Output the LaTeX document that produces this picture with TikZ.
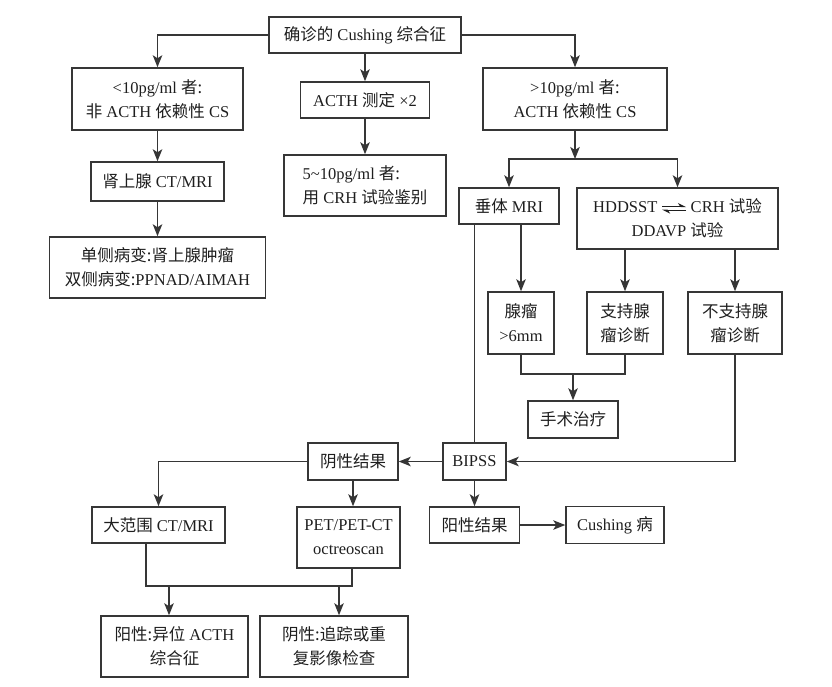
\documentclass[tikz,border=0pt]{standalone}
\usepackage{fontspec}
\setmainfont{Liberation Serif}
\newfontfamily\cjk{Noto Sans CJK SC}
\newcommand{\zh}[1]{{\cjk #1}}
\newcommand{\harp}{\tikz[baseline=-0.6ex]{%
  \draw[line width=1.1pt,-{Stealth[left,length=7pt,width=7pt]}] (0pt,1.8pt) -- (24pt,1.8pt);
  \draw[line width=1.1pt,-{Stealth[left,length=7pt,width=7pt]}] (24pt,-1.8pt) -- (0pt,-1.8pt);}}
\usetikzlibrary{arrows.meta,positioning}
\definecolor{linegray}{HTML}{363636}
\definecolor{txtgray}{HTML}{1E1E1E}

\begin{document}
\begin{tikzpicture}[x=1pt,y=-1pt,>={Stealth[length=12pt,width=9.5pt,inset=3pt]},
    box/.style={draw=linegray,line width=1.5pt,inner sep=0pt,align=center,
      text=txtgray,font=\fontsize{16.5}{24}\selectfont},
    sz/.style 2 args={minimum width=#1pt,minimum height=#2pt},
    con/.style={draw=linegray,line width=1.5pt}]
  \useasboundingbox (0,0) rectangle (832,686);

  % first level
  \node[box,sz={192}{36}] (dx) at (365,35) {\zh{确诊的} Cushing \zh{综合征}};
  \node[box,sz={171}{62}] (low) at (157.5,99) {<10pg/ml \zh{者:}\\\zh{非} ACTH \zh{依赖性} CS};
  \node[box,sz={129}{36}] (acth) at (365,100) {ACTH \zh{测定} ×2};
  \node[box,sz={184}{62}] (high) at (575,99) {>10pg/ml \zh{者:}\\ACTH \zh{依赖性} CS};
  \node[box,sz={162}{61},align=left] (mid) at (365,185.5) {5\textasciitilde10pg/ml \zh{者:}\\\zh{用} CRH \zh{试验鉴别}};

  % adrenal branch
  \node[box,sz={133}{39}] (adr) at (157.5,181.5) {\zh{肾上腺} CT/MRI};
  \node[box,sz={216}{61}] (adr_res) at (157.5,267.5) {\zh{单侧病变:肾上腺肿瘤}\\\zh{双侧病变:}PPNAD/AIMAH};

  % pituitary branch
  \node[box,sz={100}{36}] (pit) at (509,206) {\zh{垂体} MRI};
  \node[box,sz={201}{61}] (dyn) at (677.5,218.5) {HDDSST \harp{} CRH \zh{试验}\\DDAVP \zh{试验}};
  \node[box,sz={66}{62}] (aden) at (521,323) {\zh{腺瘤}\\>6mm};
  \node[box,sz={76}{62}] (sup) at (625,323) {\zh{支持腺}\\\zh{瘤诊断}};
  \node[box,sz={94}{62}] (nsup) at (735,323) {\zh{不支持腺}\\\zh{瘤诊断}};
  \node[box,sz={90}{37}] (surg) at (573,419.5) {\zh{手术治疗}};

  % BIPSS
  \node[box,sz={63}{37}] (bipss) at (474.5,461.5) {BIPSS};
  \node[box,sz={90}{37}] (neg) at (353,461.5) {\zh{阴性结果}};
  \node[box,sz={90}{36}] (pos) at (474.5,525) {\zh{阳性结果}};
  \node[box,sz={98}{37}] (cush) at (615,525) {Cushing \zh{病}};
  \node[box,sz={133}{36}] (wide) at (158.5,525) {\zh{大范围} CT/MRI};
  \node[box,sz={103}{61}] (pet) at (348.5,537.5) {PET/PET-CT\\octreoscan};
  \node[box,sz={147}{61}] (ect) at (174.5,646.5) {\zh{阳性:异位} ACTH\\\zh{综合征}};
  \node[box,sz={148}{61}] (follow) at (334,646.5) {\zh{阴性:追踪或重}\\\zh{复影像检查}};

  \coordinate (hs) at (575,159);
  \coordinate (sj) at (573,374);
  \coordinate (wj) at (146,586);
  \coordinate (pj) at (352,586);
  \coordinate (ej) at (169,586);
  \coordinate (fj) at (339,586);

  \draw[con,->] (dx.west) -| (low.north);
  \draw[con,->] (dx.east) -| (high.north);
  \draw[con,->] (dx) -- (acth);
  \draw[con,->] (acth) -- (mid);
  \draw[con,->] (low) -- (adr);
  \draw[con,->] (adr) -- (adr_res);
  \draw[con,->] (high) -- (hs);
  \draw[con,->] (hs) -| (pit.north);
  \draw[con,->] (hs) -| (dyn.north);
  \draw[con,->] (aden.north |- pit.south) -- (aden);
  \draw[con] (bipss.north |- pit.south) -- (bipss);
  \draw[con,->] (sup.north |- dyn.south) -- (sup);
  \draw[con,->] (nsup.north |- dyn.south) -- (nsup);
  \draw[con] (aden.south) |- (sj) -| (sup.south);
  \draw[con,->] (sj) -- (surg);
  \draw[con,->] (nsup.south) |- (bipss.east);
  \draw[con,->] (bipss) -- (neg);
  \draw[con,->] (bipss) -- (pos);
  \draw[con,->] (pos) -- (cush);
  \draw[con,->] (neg.west) -| (wide.north);
  \draw[con,->] (neg.south) -- (neg.south |- pet.north);
  \draw[con] (wide.south -| wj) -- (wj) -- (pj) -- (pet.south -| pj);
  \draw[con,->] (ej) -- (ect.north -| ej);
  \draw[con,->] (fj) -- (follow.north -| fj);
\end{tikzpicture}
\end{document}
